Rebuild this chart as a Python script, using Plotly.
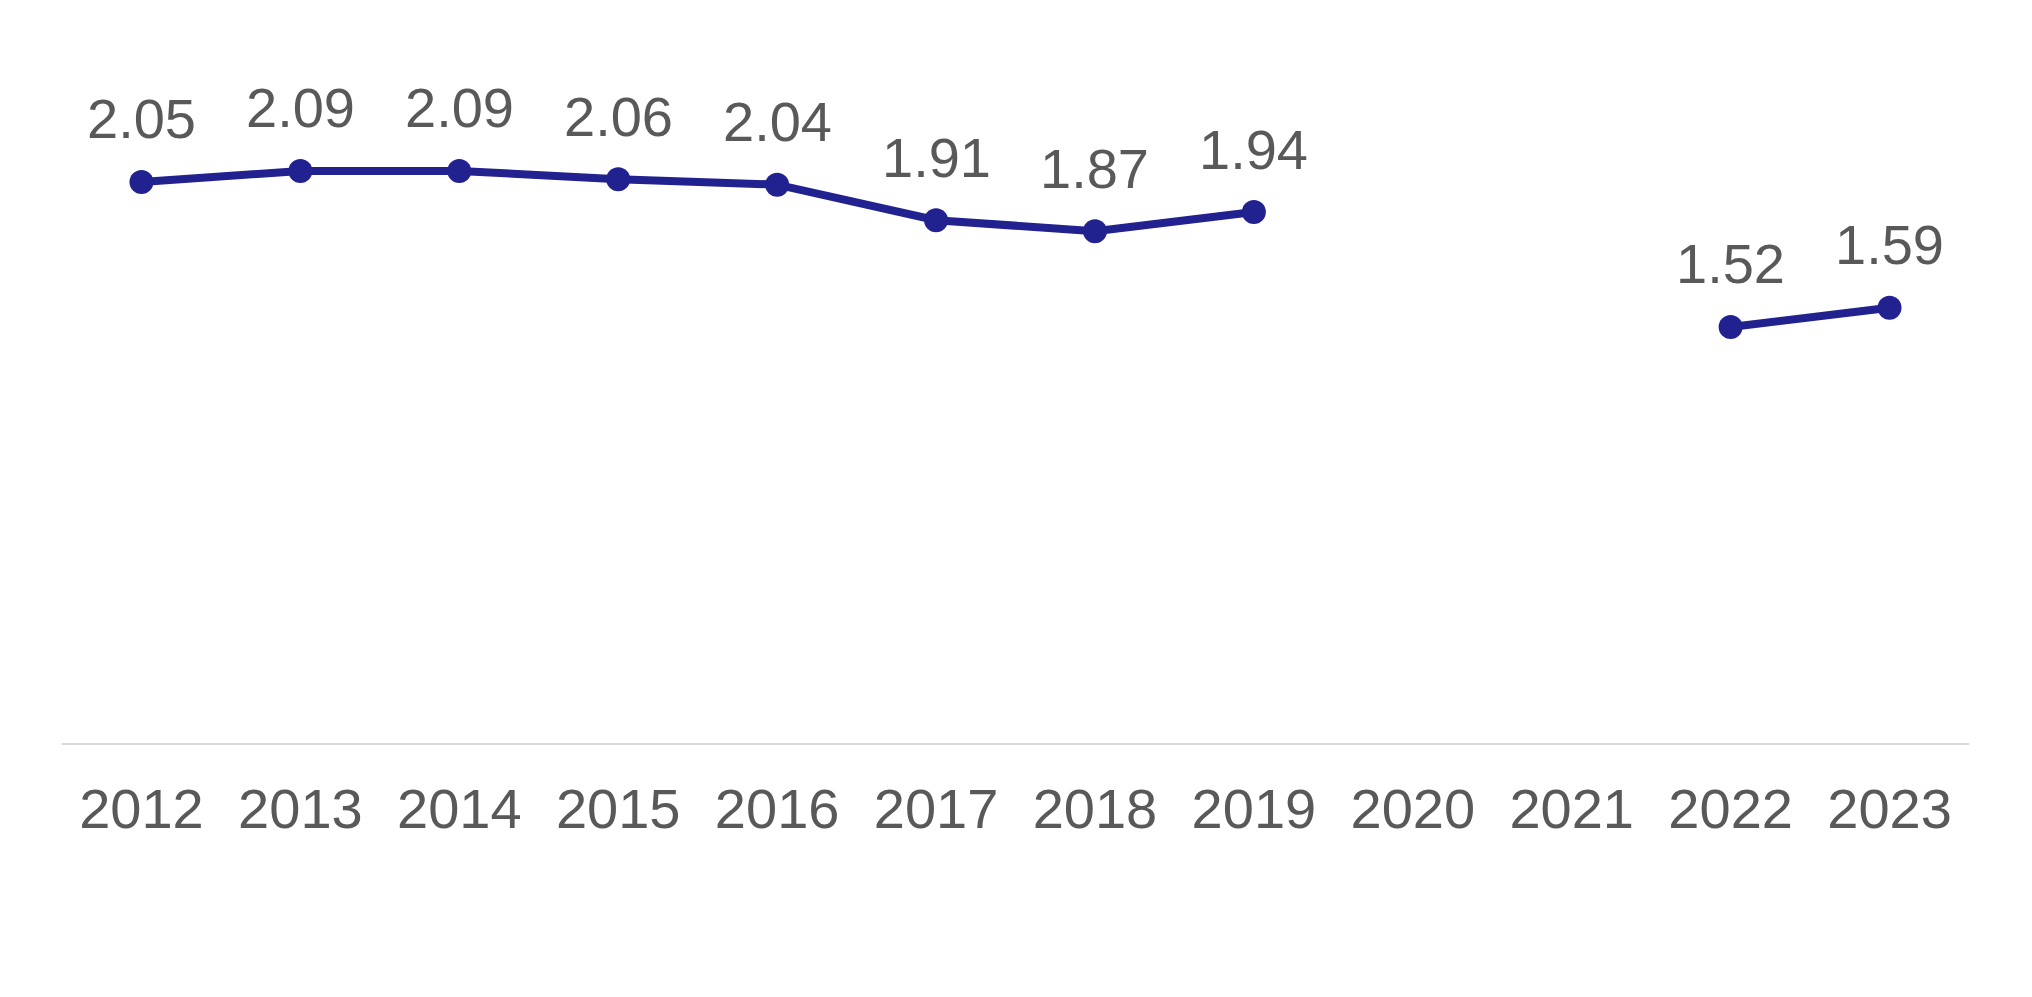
import plotly.graph_objects as go

# Data
years = [2012, 2013, 2014, 2015, 2016, 2017, 2018, 2019, 2020, 2021, 2022, 2023]
values = [2.05, 2.09, 2.09, 2.06, 2.04, 1.91, 1.87, 1.94, None, None, 1.52, 1.59]

line_color = "#21218F"
text_color = "#595959"
font_family = "Liberation Sans, Arial, sans-serif"

fig = go.Figure()
fig.add_trace(go.Scatter(x=years, y=values,
                         mode="lines+markers",
                         line=dict(color=line_color, width=8),
                         marker=dict(color=line_color, size=24),
                         connectgaps=False,
                         hoverinfo="x+y"))

# Data labels above each point
for year, value in zip(years, values):
    if value is None:
        continue
    fig.add_annotation(x=year, y=value, text=f"{value:.2f}",
                       showarrow=False, yshift=63, yanchor="middle",
                       font=dict(size=56, color=text_color, family=font_family))

fig.update_layout(width=2032, height=997,
                  margin={'t': 48, 'b': 262, 'l': 54, 'r': 71},
                  plot_bgcolor="white", paper_bgcolor="white",
                  showlegend=False,
                  font=dict(family=font_family, color=text_color, size=56))

fig.update_xaxes(range=[years[0] - 0.5, years[-1] + 0.5], tickmode="array",
                 tickvals=years, ticktext=[str(y) for y in years],
                 showgrid=False, zeroline=False,
                 showline=True, linecolor="#D9D9D9", linewidth=2,
                 ticks="outside", ticklen=16, tickcolor="rgba(0,0,0,0)",
                 tickfont=dict(size=56, color=text_color, family=font_family))
fig.update_yaxes(range=[0, 2.51], visible=False, showgrid=False, zeroline=False)

fig.write_html("out.html")
